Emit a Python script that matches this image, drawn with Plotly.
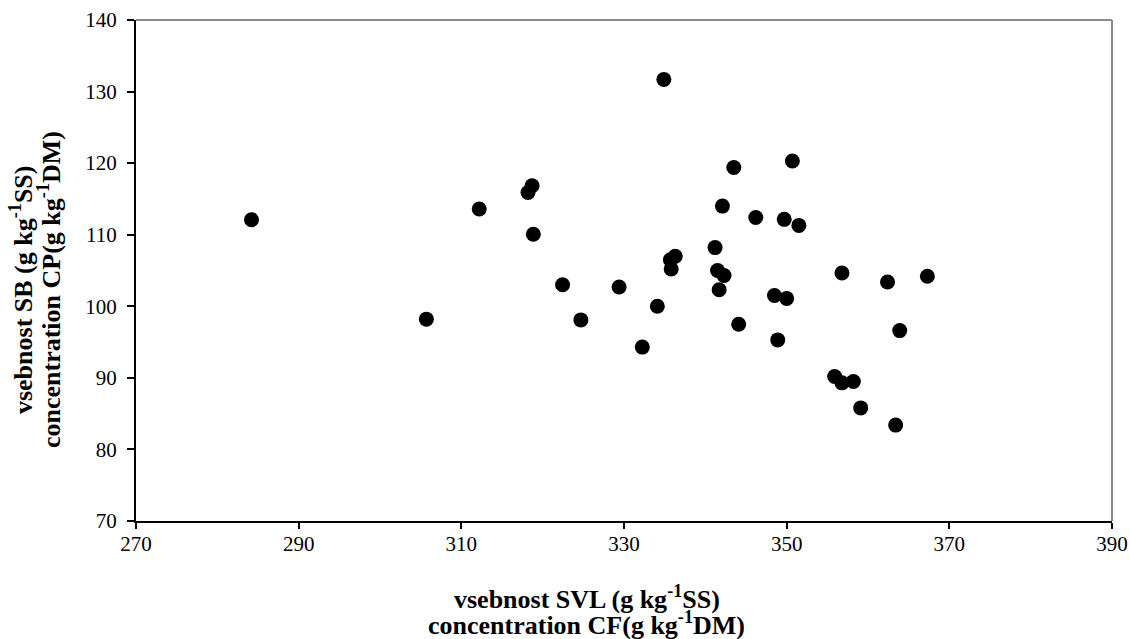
import plotly.graph_objects as go

x_cf = [284.2, 334.9, 343.5, 318.7, 318.2, 312.2, 342.1, 346.2, 318.85, 341.2,
        336.3, 335.7, 335.8, 341.5, 342.3, 341.7, 322.45, 329.4, 334.1, 305.7,
        324.7, 344.1, 332.25,
        350.7, 349.7, 351.5, 356.8, 362.4, 367.3, 348.5, 350.0, 363.9, 348.9,
        355.9, 356.8, 358.2, 359.1, 363.4]
y_cp = [112.1, 131.7, 119.4, 116.85, 115.9, 113.6, 114.0, 112.4, 110.06, 108.2,
        107.0, 106.5, 105.2, 105.0, 104.3, 102.3, 103.0, 102.7, 100.0, 98.2,
        98.1, 97.5, 94.3,
        120.3, 112.15, 111.3, 104.65, 103.4, 104.2, 101.5, 101.1, 96.6, 95.3,
        90.2, 89.3, 89.5, 85.8, 83.4]

x_ticks = [270, 290, 310, 330, 350, 370, 390]
y_ticks = [70, 80, 90, 100, 110, 120, 130, 140]

x_title = ["vsebnost SVL (g kg<sup>-1</sup>SS)", "concentration CF(g kg<sup>-1</sup>DM)"]
y_title = ["vsebnost SB (g kg<sup>-1</sup>SS)", "concentration CP(g kg<sup>-1</sup>DM)"]

serif = "Liberation Serif, Times New Roman, serif"
title_font = dict(family=serif, size=26, color="black")

fig = go.Figure(go.Scatter(
    x=x_cf, y=y_cp, mode="markers",
    marker=dict(color="black", size=15, line=dict(width=0)),
    showlegend=False,
))

annotations = []
for txt, shift in zip(x_title, [-76, -102]):
    annotations.append(dict(
        text="<b>" + txt + "</b>", xref="paper", yref="paper",
        x=0.462, y=0, yshift=shift, xanchor="center", yanchor="middle",
        showarrow=False, font=title_font))
for txt, xpos in zip(y_title, [21, 49]):
    annotations.append(dict(
        text="<b>" + txt + "</b>", xref="paper", yref="paper",
        x=0, y=0.461, xshift=xpos - 136, xanchor="center", yanchor="middle",
        textangle=-90, showarrow=False, font=title_font))

fig.update_layout(
    width=1130, height=639,
    margin=dict(l=136, r=18, t=20, b=118, autoexpand=False),
    paper_bgcolor="white", plot_bgcolor="white",
    font=dict(family=serif, size=21, color="black"),
    xaxis=dict(range=[270, 390], tickvals=x_ticks, showgrid=False, zeroline=False,
               automargin=False,
               showline=True, linecolor="black", linewidth=2,
               ticks="outside", ticklen=6, tickwidth=1.5, tickcolor="black",
               ticklabelstandoff=-3,
               tickfont=dict(family=serif, size=21)),
    yaxis=dict(range=[70, 140], tickvals=y_ticks, showgrid=False, zeroline=False,
               automargin=False,
               showline=True, linecolor="black", linewidth=2,
               ticks="outside", ticklen=7, tickwidth=1.5, tickcolor="black",
               ticklabelstandoff=6,
               tickfont=dict(family=serif, size=21)),
    shapes=[
        dict(type="line", xref="paper", yref="paper", x0=0, x1=1, y0=1, y1=1,
             line=dict(color="#8c8c8c", width=2), layer="below"),
        dict(type="line", xref="paper", yref="paper", x0=1, x1=1, y0=0, y1=1,
             line=dict(color="#8c8c8c", width=2), layer="below"),
    ],
    annotations=annotations,
)

fig.write_html("out.html", config={"displayModeBar": False},
               post_script="document.body.style.margin='0px';document.body.style.overflow='hidden';")
